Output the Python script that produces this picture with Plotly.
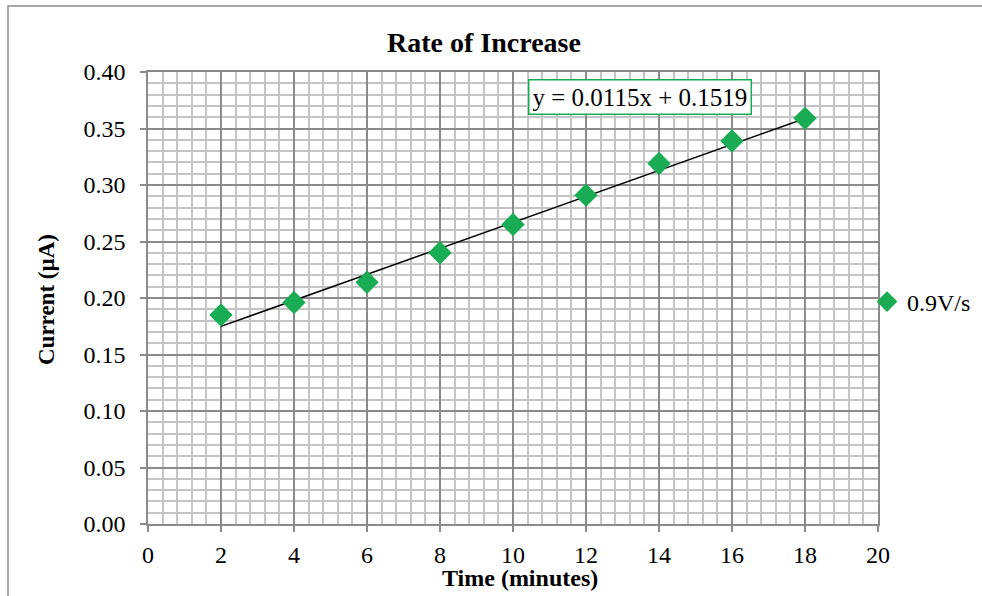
import numpy as np
import plotly.graph_objects as go

# ---- data ----
time_min = [2, 4, 6, 8, 10, 12, 14, 16, 18]
current_uA = [0.185, 0.196, 0.214, 0.240, 0.265, 0.291, 0.319, 0.339, 0.359]
series_name = "0.9V/s"
trend_slope = 0.0115
trend_intercept = 0.1519
trend_label = "y = 0.0115x + 0.1519"
x_ticks = list(range(0, 21, 2))
y_ticks = [round(0.05 * i, 2) for i in range(9)]

W, H = 982, 596
L, R, T, B = 148, 104, 72, 72
pw, ph = W - L - R, H - T - B

def px_x(p):
    return (p - L) / pw

def px_y(p):
    return (H - B - p) / ph

FONT = "Liberation Serif, Times New Roman, serif"
GREEN = "#1aab55"
MAJOR = "#8a8a8a"
MINOR = "#c4c4c4"

tx = np.array([min(time_min), max(time_min)], dtype=float)
ty = trend_slope * tx + trend_intercept

fig = go.Figure()
fig.add_trace(go.Scatter(
    x=tx, y=ty, mode="lines", line=dict(color="black", width=1.5),
    showlegend=False, hoverinfo="skip"))
fig.add_trace(go.Scatter(
    x=time_min, y=current_uA, mode="markers", name=series_name,
    marker=dict(symbol="diamond", size=18, color=GREEN, line=dict(width=0))))

fig.update_layout(
    width=W, height=H,
    margin=dict(l=L, r=R, t=T, b=B, autoexpand=False),
    paper_bgcolor="white", plot_bgcolor="white",
    font=dict(family=FONT, size=24, color="black"),
    title=dict(text="<b>Rate of Increase</b>", x=484 / W, xanchor="center",
               y=1 - 42 / H, yanchor="middle", font=dict(size=28)),
    legend=dict(x=px_x(867), y=px_y(302), xanchor="left", yanchor="middle",
                bgcolor="rgba(0,0,0,0)", font=dict(size=24), itemwidth=30),
    showlegend=True,
)
fig.update_xaxes(
    range=[0, 20], tickvals=x_ticks, showgrid=True, gridcolor=MAJOR, gridwidth=1.5,
    minor=dict(dtick=0.4, tick0=0, showgrid=True, gridcolor=MINOR, gridwidth=1.5),
    showline=True, linecolor=MAJOR, linewidth=1.5, mirror=True,
    ticks="outside", ticklen=6, tickcolor=MAJOR, tickwidth=1.5,
    ticklabelstandoff=2, zeroline=False, automargin=False,
)
fig.update_yaxes(
    range=[0, 0.4], tickvals=y_ticks, tickformat=".2f", showgrid=True, gridcolor=MAJOR,
    gridwidth=1.5,
    minor=dict(dtick=0.01, tick0=0, showgrid=True, gridcolor=MINOR, gridwidth=1.5),
    showline=True, linecolor=MAJOR, linewidth=1.5, mirror=True,
    ticks="outside", ticklen=6, tickcolor=MAJOR, tickwidth=1.5,
    ticklabelstandoff=10, zeroline=False, automargin=False,
)

fig.add_annotation(text="<b>Current (µA)</b>", xref="paper", yref="paper",
                   x=px_x(46), y=px_y(300), textangle=-90, showarrow=False,
                   xanchor="center", yanchor="middle", font=dict(size=23))
fig.add_annotation(text="<b>Time (minutes)</b>", xref="paper", yref="paper",
                   x=px_x(520), y=px_y(578), showarrow=False,
                   xanchor="center", yanchor="middle", font=dict(size=24))
fig.add_annotation(text=trend_label, xref="paper", yref="paper",
                   x=px_x(640), y=px_y(97), showarrow=False,
                   xanchor="center", yanchor="middle", font=dict(size=25),
                   bgcolor="white", bordercolor=GREEN, borderwidth=1.5, borderpad=3)

fig.add_shape(type="rect", xref="paper", yref="paper",
              x0=px_x(8), x1=px_x(990), y0=px_y(604), y1=px_y(6),
              line=dict(color="#8a8a8a", width=1.5), fillcolor="rgba(0,0,0,0)",
              layer="below")

fig.write_html("out.html")
